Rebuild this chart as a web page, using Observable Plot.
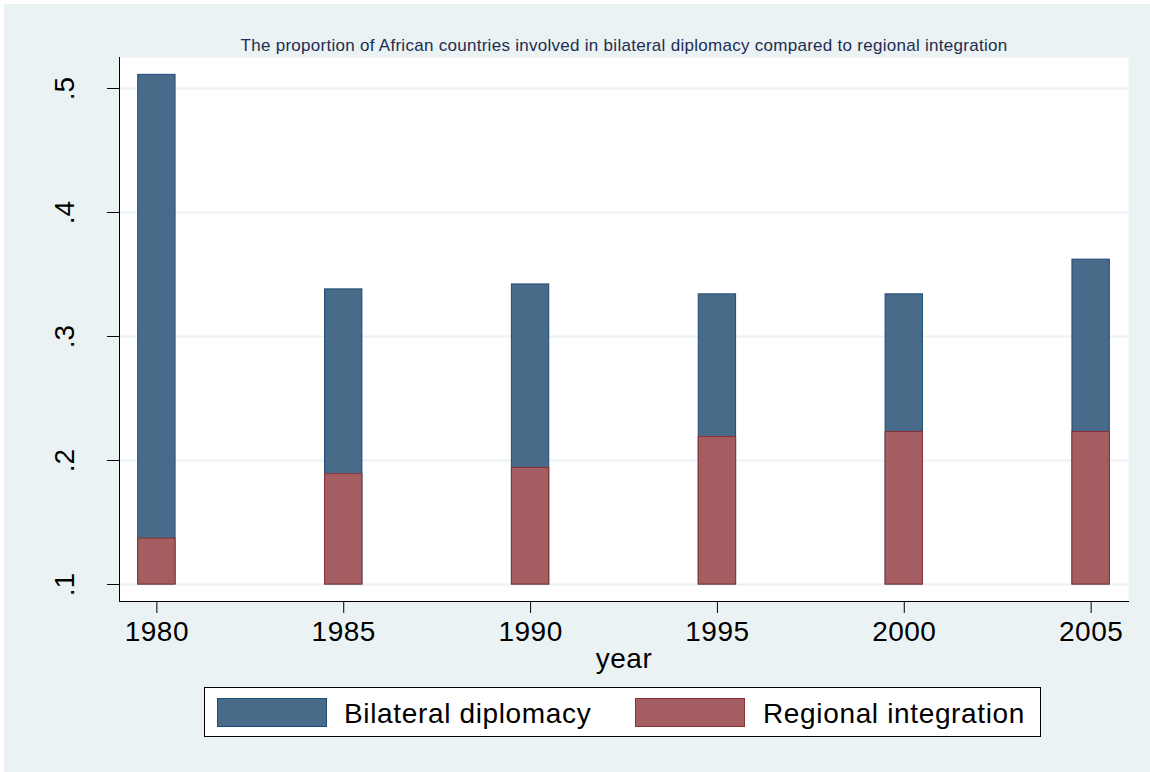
<!DOCTYPE html>
<html>
<head>
<meta charset="utf-8">
<script src="https://cdn.jsdelivr.net/npm/d3@7"></script>
<script src="https://cdn.jsdelivr.net/npm/@observablehq/plot@0.6"></script>
<style>
  body { margin: 0; background: #fff; font-family: "Liberation Sans", Arial, sans-serif; }
  #wrap { position: relative; width: 1150px; height: 772px; }
  #wrap svg { display: block; background: #eaf2f3; box-shadow: inset 4px 4px 0 0 #fff; }
  .abs { position: absolute; }
  .legend-box { left: 204px; top: 687px; width: 835px; height: 48px; border: 1px solid #000; background: #fff; }
  .swatch { top: 698px; width: 108px; height: 27px; border: 1px solid; }
  .ltext { top: 700px; font-size: 28px; line-height: 28px; color: #000; white-space: nowrap; letter-spacing: 0.65px; }
</style>
</head>
<body>
<div id="wrap"></div>
<script>
const title = "The proportion of African countries involved in bilateral diplomacy compared to regional integration";
const years = [1980, 1985, 1990, 1995, 2000, 2005];
const bilateral = [0.511, 0.338, 0.342, 0.334, 0.334, 0.362];
const regional = [0.137, 0.189, 0.194, 0.219, 0.223, 0.223];
const seriesNames = ["Bilateral diplomacy", "Regional integration"];
const yTicks = [0.1, 0.2, 0.3, 0.4, 0.5];
const xTicks = [1980, 1985, 1990, 1995, 2000, 2005];
const barBase = 0.1;

const blueFill = "#486b8a", blueStroke = "#1f4a73";
const redFill = "#a45e61", redStroke = "#8c2f36";

const bil = years.map((y, i) => ({year: y, value: bilateral[i]}));
const reg = years.map((y, i) => ({year: y, value: regional[i]}));

const chart = Plot.plot({
  width: 1150,
  height: 772,
  marginLeft: 119,
  marginRight: 22,
  marginTop: 57,
  marginBottom: 171,
  style: {fontFamily: "'Liberation Sans', Arial, sans-serif", color: "#000", background: "#eaf2f3"},
  x: {domain: [1979.0, 2006.0]},
  y: {domain: [0.0863, 0.525]},
  marks: [
    Plot.frame({fill: "white", stroke: null}),
    Plot.gridY(yTicks, {stroke: "#eaf2f3", strokeOpacity: 1, strokeWidth: 2}),
    Plot.rectY(bil, {x1: d => d.year - 0.5, x2: d => d.year + 0.5, y1: () => barBase, y2: "value", fill: blueFill, stroke: blueStroke, strokeWidth: 1}),
    Plot.rectY(reg, {x1: d => d.year - 0.5, x2: d => d.year + 0.5, y1: () => barBase, y2: "value", fill: redFill, stroke: redStroke, strokeWidth: 1}),
    Plot.frame({anchor: "left", stroke: "#000"}),
    Plot.frame({anchor: "bottom", stroke: "#000"}),
    Plot.axisY({
      ticks: yTicks,
      tickFormat: d => d3.format(".1f")(d).replace(/^0/, ""),
      tickSize: 12, tickPadding: 34, tickRotate: -90,
      fontSize: 28, label: null
    }),
    Plot.axisX({
      ticks: xTicks, tickFormat: "d",
      tickSize: 12, tickPadding: 8, fontSize: 28,
      label: "year", labelAnchor: "center", labelOffset: 66, labelArrow: "none"
    }),
    Plot.text([title], {frameAnchor: "top", dy: -7, lineAnchor: "bottom", fontSize: 17, fill: "#1e2d52"})
  ]
});

// slight letter-spacing to match the wider glyph rendering of the original
d3.select(chart).selectAll("text").each(function () {
  const t = this.textContent;
  if (t === title) this.setAttribute("letter-spacing", "0.28");
  else if (/^\d{4}$/.test(t) || t === "year") this.setAttribute("letter-spacing", "0.5");
});

const wrap = document.getElementById("wrap");
wrap.appendChild(chart);

const box = document.createElement("div");
box.className = "abs legend-box";
wrap.appendChild(box);

const items = [
  {name: seriesNames[0], fill: blueFill, stroke: blueStroke, sx: 217, tx: 344},
  {name: seriesNames[1], fill: redFill, stroke: redStroke, sx: 635, tx: 763}
];
for (const it of items) {
  const sw = document.createElement("div");
  sw.className = "abs swatch";
  sw.style.left = it.sx + "px";
  sw.style.background = it.fill;
  sw.style.borderColor = it.stroke;
  wrap.appendChild(sw);
  const t = document.createElement("div");
  t.className = "abs ltext";
  t.style.left = it.tx + "px";
  t.textContent = it.name;
  wrap.appendChild(t);
}
</script>
</body>
</html>
